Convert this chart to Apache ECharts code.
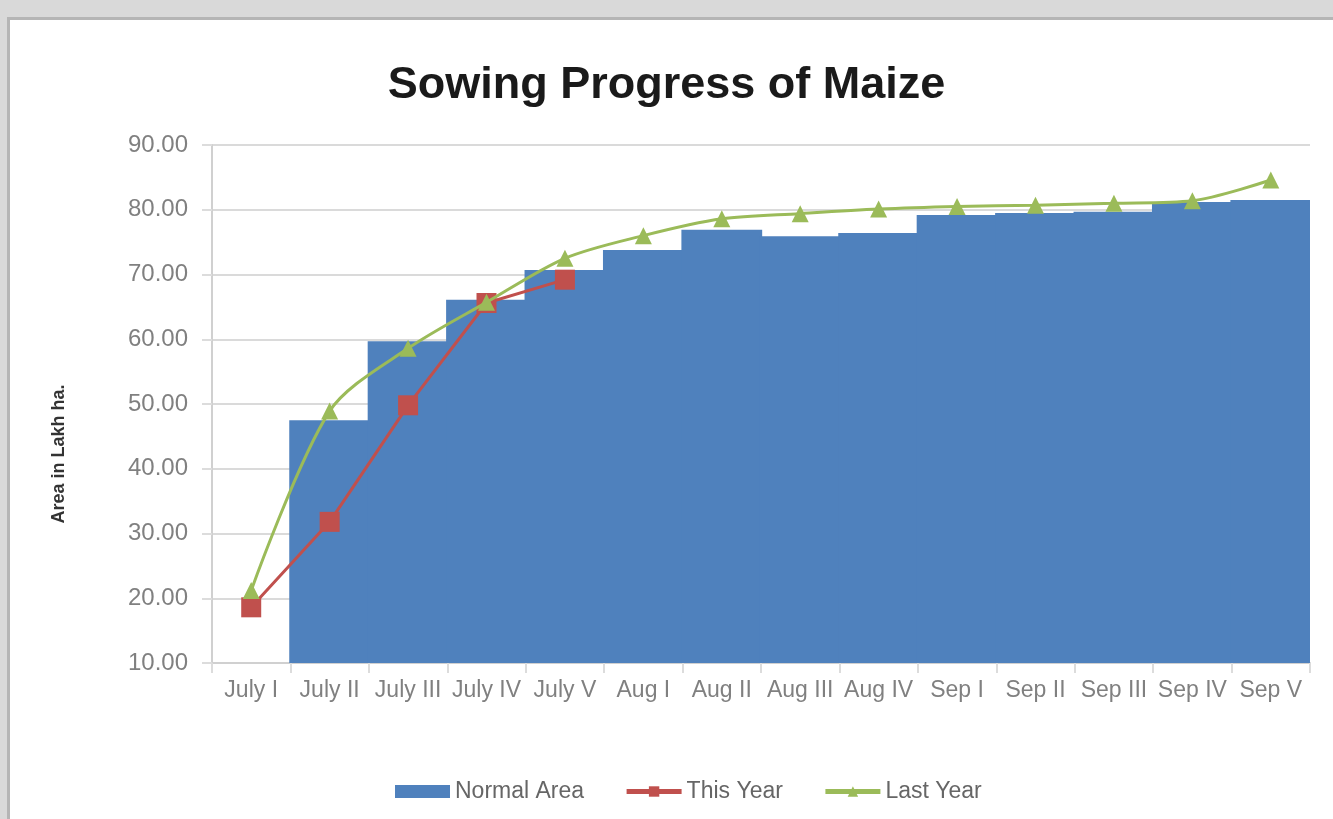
<!DOCTYPE html>
<html>
<head>
<meta charset="utf-8">
<title>Sowing Progress of Maize</title>
<script src="https://cdn.jsdelivr.net/npm/echarts@6/dist/echarts.min.js"></script>
<style>
    html, body { margin:0; padding:0; width:1333px; height:819px; overflow:hidden; background:#d9d9d9; }
    #frame { position:absolute; left:7px; top:17px; width:1340px; height:820px; background:#fff; border:3px solid #b5b5b5; }
    #chart { position:absolute; left:0; top:0; width:1333px; height:819px; }
</style>
</head>
<body>
<div id="frame"></div>
<div id="chart"></div>
<script>
// 播种进度 - values (lakh ha)
var weeks = ['July I','July II','July III','July IV','July V','Aug I','Aug II','Aug III','Aug IV','Sep I','Sep II','Sep III','Sep IV','Sep V'];
var normalArea = [null, 47.5, 59.7, 66.1, 70.7, 73.8, 76.9, 75.9, 76.4, 79.2, 79.5, 79.7, 81.2, 81.5];
var thisYear = [18.6, 31.8, 49.8, 65.6, 69.2, null, null, null, null, null, null, null, null, null];
var lastYear = [21.2, 48.9, 58.6, 65.7, 72.5, 76.0, 78.6, 79.4, 80.1, 80.5, 80.7, 81.0, 81.4, 84.6];
var yTicks = {min:10, max:90, step:10};

var labelFont = 'Liberation Sans, Arial, sans-serif';

var maizeOption = {
    backgroundColor:'transparent',
    animation:false,
    title: {
        text:'Sowing Progress of Maize',
        left:'center',
        top:58,
        textStyle:{
            color:'#1a1a1a',
            fontFamily:labelFont,
            fontSize:45,
            fontWeight:'bold'
        }
    },
    legend: {
        left:390,
        top:775,
        itemWidth:55,
        itemHeight:13,
        itemGap:40,
        lineStyle:{width:5},
        data:[
            {name:'Normal Area', icon:'rect'},
            {name:'This Year'},
            {name:'Last Year'}
        ],
        textStyle:{
            color:'#666',
            fontFamily:labelFont,
            fontSize:23
        }
    },
    grid: {
        left:212,
        right:23,
        top:145,
        bottom:156
    },
    xAxis: {
        type:'category',
        data:weeks,
        boundaryGap:true,
        splitLine:{show:false},
        axisLine:{lineStyle:{color:'#d0d0d0', width:2}},
        axisTick:{show:true, interval:0, length:10, lineStyle:{color:'#dcdcdc', width:2}},
        axisLabel:{
            interval:0,
            margin:16,
            color:'#808080',
            fontFamily:labelFont,
            fontSize:23
        }
    },
    yAxis: {
        type:'value',
        min:yTicks.min,
        max:yTicks.max,
        interval:yTicks.step,
        name:'Area in Lakh ha.',
        nameLocation:'middle',
        nameGap:144,
        nameTextStyle:{
            color:'#333',
            fontFamily:labelFont,
            fontSize:18,
            fontWeight:'bold',
            padding:[0,100,0,0]
        },
        axisLine:{show:true, lineStyle:{color:'#d0d0d0', width:2}},
        axisTick:{show:true, length:10, lineStyle:{color:'#dcdcdc', width:2}},
        splitLine:{lineStyle:{color:'#dadada', width:2}},
        axisLabel:{
            margin:24,
            color:'#808080',
            fontFamily:labelFont,
            fontSize:24,
            formatter:function(v){ return v.toFixed(2); }
        }
    },
    series: [
        {
            name:'Normal Area',
            type:'bar',
            barCategoryGap:'-3%',
            itemStyle:{color:'#4f81bd'},
            data:normalArea,
            z:2
        },
        {
            name:'This Year',
            type:'line',
            symbol:'rect',
            symbolSize:20,
            itemStyle:{color:'#c0504d'},
            lineStyle:{color:'#c0504d', width:3},
            data:thisYear,
            z:3
        },
        {
            name:'Last Year',
            type:'line',
            smooth:0.3,
            symbol:'triangle',
            symbolSize:17,
            itemStyle:{color:'#9bbb59'},
            lineStyle:{color:'#9bbb59', width:3},
            data:lastYear,
            z:4
        }
    ]
};

var maizeChart = echarts.init(document.getElementById('chart'));
maizeChart.setOption(maizeOption);
</script>
</body>
</html>
